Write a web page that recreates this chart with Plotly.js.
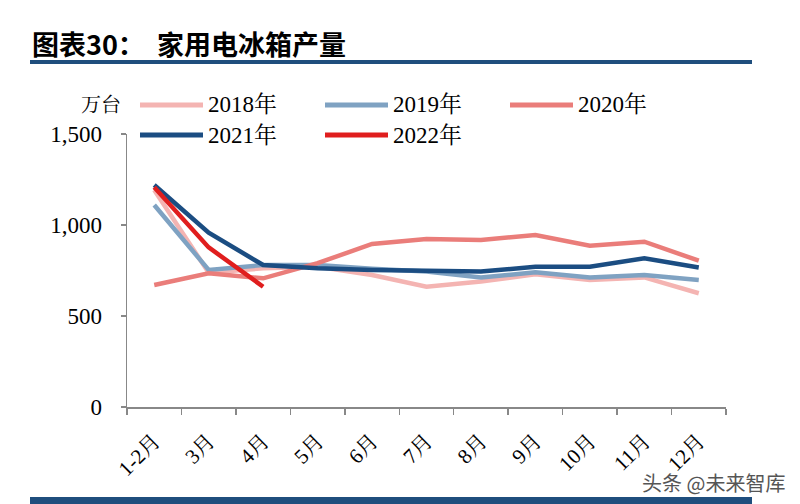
<!DOCTYPE html>
<html><head><meta charset="utf-8">
<script src="https://cdn.plot.ly/plotly-3.0.1.min.js"></script>
<style>html,body{margin:0;padding:0;background:#fff;}#chart{width:800px;height:504px;}</style>
</head><body><div id="chart"></div>
<script>
const categories = ["1-2月","3月","4月","5月","6月","7月","8月","9月","10月","11月","12月"];
const seriesNames = ["2018年","2019年","2020年","2021年","2022年"];
const v2018 = [1192, 738, 762, 770, 725, 661, 689, 729, 698, 712, 625];
const v2019 = [1110, 753, 780, 780, 760, 745, 712, 740, 712, 725, 698];
const v2020 = [670, 735, 707, 790, 896, 923, 918, 945, 886, 908, 804];
const v2021 = [1220, 958, 780, 762, 753, 747, 744, 771, 771, 817, 766];
const v2022 = [1207, 877, 661];
const yTicks = [0, 500, 1000, 1500];
const yTickText = ["0", "500", "1,000", "1,500"];
const unitLabel = "万台";
const titleText = "图表30：  家用电冰箱产量";
const watermark = "头条 @未来智库";

const colors = ["#F4B4B2", "#7FA2C2", "#EA7D7A", "#1B4D82", "#E01E1E"];
const allValues = [v2018, v2019, v2020, v2021, v2022];
const serif = "Liberation Serif, Noto Serif CJK SC, Noto Sans CJK SC, serif";

const L = 127, R = 726, T = 134, B = 407;
const px = x => (x - L) / (R - L);
const py = y => (B - y) / (B - T);

const traces = allValues.map((vals, i) => ({
  type: "scatter", mode: "lines",
  x: categories.slice(0, vals.length), y: vals,
  name: seriesNames[i],
  line: {color: colors[i], width: 4.5},
  showlegend: false, hoverinfo: "skip"
}));

const shapes = [
  {type:"line", xref:"paper", yref:"paper", x0:px(30), x1:px(752), y0:py(62), y1:py(62), line:{color:"#1F4E7D", width:4}},
  {type:"rect", xref:"paper", yref:"paper", x0:px(30), x1:px(752), y0:py(497), y1:py(506), line:{width:0}, fillcolor:"#1F4E7D"}
];
const annotations = [
  {xref:"paper", yref:"paper", x:px(30), y:py(43), xanchor:"left", yanchor:"middle", showarrow:false,
   text:"<b>"+titleText+"</b>", font:{family:"Noto Sans CJK SC, sans-serif", size:27, color:"#000"}},
  {xref:"paper", yref:"paper", x:px(123), y:py(105), xanchor:"right", yanchor:"middle", showarrow:false,
   text:unitLabel, font:{family:serif, size:20, color:"#000"}},
  {xref:"paper", yref:"paper", x:px(787), y:py(482), xanchor:"right", yanchor:"middle", showarrow:false,
   text:watermark, font:{family:"Noto Sans CJK SC, sans-serif", size:20, color:"#555"}}
];
const legendPos = [[140,105],[325,105],[510,105],[140,135],[325,135]];
seriesNames.forEach((n, i) => {
  const [lx, ly] = legendPos[i];
  shapes.push({type:"line", xref:"paper", yref:"paper", x0:px(lx), x1:px(lx+63), y0:py(ly), y1:py(ly),
    line:{color:colors[i], width:5}});
  annotations.push({xref:"paper", yref:"paper", x:px(lx+66), y:py(ly), xanchor:"left", yanchor:"middle",
    showarrow:false, text:n, font:{family:serif, size:23, color:"#000"}});
});

const layout = {
  width: 800, height: 504,
  margin: {l: L, r: 800 - R, t: T, b: 504 - B, pad: 0},
  paper_bgcolor: "#fff", plot_bgcolor: "#fff",
  showlegend: false,
  xaxis: {
    type: "category", categoryorder: "array", categoryarray: categories,
    range: [-0.5, categories.length - 0.5],
    showgrid: false, zeroline: false, showline: true, linecolor: "#888", linewidth: 1.5,
    ticks: "outside", tickson: "boundaries", ticklen: 6, tickcolor: "#888", tickwidth: 1.5,
    ticklabelstandoff: 12,
    tickangle: -45, tickfont: {family: serif, size: 21, color: "#000"}, fixedrange: true
  },
  yaxis: {
    range: [0, 1500], tickvals: yTicks, ticktext: yTickText,
    showgrid: false, zeroline: false, showline: true, linecolor: "#888", linewidth: 1.5,
    ticks: "outside", ticklen: 5, tickcolor: "#888", tickwidth: 1.5,
    ticklabelstandoff: 14,
    tickfont: {family: serif, size: 23, color: "#000"}, fixedrange: true
  },
  shapes, annotations
};
Plotly.newPlot("chart", traces, layout, {displayModeBar: false, staticPlot: true});
</script></body></html>
